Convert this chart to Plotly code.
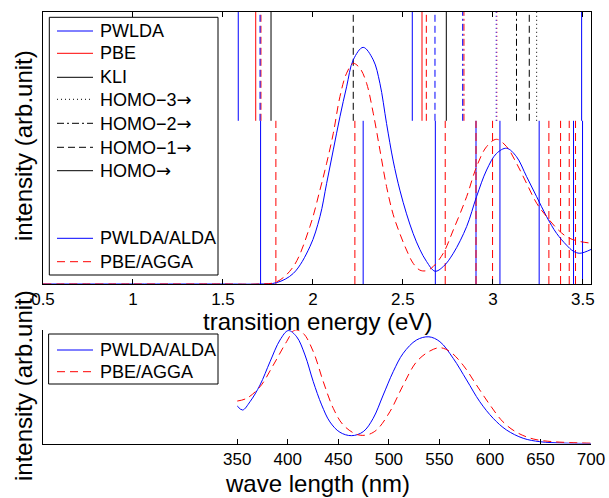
import plotly.graph_objects as go

W, H = 609, 498
FONT = "Liberation Sans, Arial, sans-serif"

# ---- broadened spectra vs transition energy (eV) ----
e_pwlda_alda = [0.5, 1.0, 1.5, 1.7, 1.798, 1.891, 1.983, 2.039, 2.076, 2.113, 2.15, 2.187,
                2.224, 2.279, 2.335, 2.372, 2.409, 2.446, 2.483, 2.52, 2.557, 2.594, 2.631,
                2.678, 2.724, 2.78, 2.854, 2.909, 2.965, 3.02, 3.076, 3.131, 3.187, 3.243,
                3.298, 3.354, 3.409, 3.446, 3.483, 3.545]
i_pwlda_alda = [0.0, 0.0, 0.0, 0.0, 0.005, 0.039, 0.137, 0.248, 0.37, 0.493, 0.615, 0.725,
                0.824, 0.870, 0.824, 0.738, 0.59, 0.452, 0.345, 0.258, 0.185, 0.127, 0.083,
                0.047, 0.064, 0.113, 0.211, 0.321, 0.419, 0.48, 0.499, 0.468, 0.395, 0.321,
                0.248, 0.186, 0.143, 0.121, 0.113, 0.127]

e_pbe_agga = [0.5, 1.0, 1.5, 1.7, 1.798, 1.891, 1.983, 2.039, 2.076, 2.113, 2.15, 2.187,
              2.224, 2.261, 2.298, 2.335, 2.372, 2.409, 2.446, 2.483, 2.52, 2.557, 2.594,
              2.631, 2.668, 2.724, 2.78, 2.854, 2.909, 2.965, 3.02, 3.076, 3.131, 3.187,
              3.243, 3.298, 3.354, 3.409, 3.465, 3.545]
i_pbe_agga = [0.0, 0.0, 0.0, 0.0, 0.008, 0.064, 0.211, 0.346, 0.444, 0.554, 0.689, 0.775,
              0.811, 0.793, 0.738, 0.628, 0.493, 0.358, 0.255, 0.185, 0.125, 0.076, 0.051,
              0.049, 0.064, 0.113, 0.199, 0.321, 0.431, 0.505, 0.532, 0.505, 0.444, 0.37,
              0.297, 0.248, 0.205, 0.174, 0.159, 0.15]

# ---- TDDFT excitation energies (eV) ----
exc_pwlda_alda = [1.709, 2.279, 2.680, 2.906, 3.039, 3.257, 3.448, 3.498]
exc_pbe_agga = [1.794, 2.233, 2.735, 2.906, 2.998, 3.311, 3.376, 3.424, 3.459]

# ---- Kohn-Sham eigenvalue differences (eV) and the occupied orbital
#      each transition starts from (0 = HOMO, 1 = HOMO-1, ...) ----
ks_pwlda_e = [1.585, 1.706, 2.552, 2.678, 2.832, 3.018, 3.493]
ks_pwlda_orb = [0, 1, 0, 1, 2, 3, 0]
ks_pbe_e = [1.682, 1.711, 2.606, 2.630, 2.839, 3.022]
ks_pbe_orb = [0, 1, 0, 1, 2, 3]
ks_kli_e = [1.767, 2.224, 2.741, 3.131, 3.202, 3.243]
ks_kli_orb = [0, 1, 0, 2, 1, 3]

# ---- absorption spectra vs wavelength (nm) ----
wl_pwlda_alda = [350, 355.3, 362.6, 372.5, 382.4, 392.3, 400.5, 408.8, 417, 425.2, 433.5,
                 441.7, 451.6, 463.1, 474.6, 484.5, 494.4, 504.3, 514.2, 527.4, 539.6, 550.5,
                 563.7, 576.9, 590, 603.2, 616.4, 632.9, 649.4, 672.4, 700]
a_pwlda_alda = [0.33, 0.295, 0.368, 0.515, 0.72, 0.912, 0.995, 0.94, 0.78, 0.545, 0.34,
                0.19, 0.099, 0.069, 0.104, 0.222, 0.427, 0.633, 0.795, 0.912, 0.94, 0.897,
                0.75, 0.56, 0.368, 0.222, 0.119, 0.046, 0.016, 0.004, 0.0]
wl_pbe_agga = [350, 359.3, 372.5, 385.6, 398.8, 407, 415.3, 425.2, 435.1, 445, 454.9, 468,
               477.9, 487.8, 501, 514.2, 527.4, 540.6, 550.5, 560.4, 573.5, 586.7, 600, 613,
               626.3, 642.8, 662.5, 700]
a_pbe_agga = [0.374, 0.398, 0.5, 0.69, 0.897, 1.0, 0.97, 0.81, 0.545, 0.31, 0.163, 0.081,
              0.075, 0.119, 0.28, 0.515, 0.72, 0.815, 0.844, 0.81, 0.69, 0.515, 0.34, 0.19,
              0.099, 0.04, 0.016, 0.003]

energy_ticks = [0.5, 1, 1.5, 2, 2.5, 3, 3.5]
energy_tick_labels = ["0.5", "1", "1.5", "2", "2.5", "3", "3.5"]
wl_ticks = [350, 400, 450, 500, 550, 600, 650, 700]
wl_tick_labels = ["350", "400", "450", "500", "550", "600", "650", "700"]

ARROW = '<span style="font-family:DejaVu Sans">\u2192</span>'
orbital_names = ["HOMO" + ARROW, "HOMO\u22121" + ARROW,
                 "HOMO\u22122" + ARROW, "HOMO\u22123" + ARROW]

BLUE = "#0000ff"
RED = "#ff0000"
BLACK = "#000000"
STICK_DASH = {0: "solid", 1: "7px,4px", 2: "7px,3px,2px,3px", 3: "1px,3px"}
CURVE_DASH = "8px,5px"

KS_LOW, KS_HIGH = 0.6, 1.0     # band used for Kohn-Sham transitions
EXC_LOW, EXC_HIGH = 0.0, 0.6   # band used for TDDFT excitations


def sticks(energies, y0, y1):
    xs, ys = [], []
    for e in energies:
        xs += [e, e, None]
        ys += [y0, y1, None]
    return xs, ys


fig = go.Figure()

# TDDFT excitation sticks
for energies, color, dash in [(exc_pwlda_alda, BLUE, "solid"),
                              (exc_pbe_agga, RED, CURVE_DASH)]:
    xs, ys = sticks(energies, EXC_LOW, EXC_HIGH)
    fig.add_trace(go.Scatter(x=xs, y=ys, mode="lines", showlegend=False,
                             line=dict(color=color, width=1, dash=dash),
                             xaxis="x", yaxis="y", hoverinfo="skip"))

# Kohn-Sham transition sticks, line style by starting orbital
for energies, orbs, color in [(ks_kli_e, ks_kli_orb, BLACK),
                              (ks_pbe_e, ks_pbe_orb, RED),
                              (ks_pwlda_e, ks_pwlda_orb, BLUE)]:
    for orb in sorted(set(orbs)):
        sel = [e for e, o in zip(energies, orbs) if o == orb]
        xs, ys = sticks(sel, KS_LOW, KS_HIGH)
        fig.add_trace(go.Scatter(x=xs, y=ys, mode="lines", showlegend=False,
                                 line=dict(color=color, width=1, dash=STICK_DASH[orb]),
                                 xaxis="x", yaxis="y", hoverinfo="skip"))

# broadened spectra (energy)
fig.add_trace(go.Scatter(x=e_pwlda_alda, y=i_pwlda_alda, mode="lines", name="PWLDA/ALDA",
                         showlegend=False, line=dict(color=BLUE, width=1, shape="spline"),
                         xaxis="x", yaxis="y"))
fig.add_trace(go.Scatter(x=e_pbe_agga, y=i_pbe_agga, mode="lines", name="PBE/AGGA",
                         showlegend=False,
                         line=dict(color=RED, width=1, dash=CURVE_DASH, shape="spline"),
                         xaxis="x", yaxis="y"))

# spectra (wavelength)
fig.add_trace(go.Scatter(x=wl_pwlda_alda, y=a_pwlda_alda, mode="lines", name="PWLDA/ALDA",
                         showlegend=False, line=dict(color=BLUE, width=1, shape="spline"),
                         xaxis="x2", yaxis="y2"))
fig.add_trace(go.Scatter(x=wl_pbe_agga, y=a_pbe_agga, mode="lines", name="PBE/AGGA",
                         showlegend=False,
                         line=dict(color=RED, width=1, dash=CURVE_DASH, shape="spline"),
                         xaxis="x2", yaxis="y2"))


def px(x):
    return x / W


def py(y):
    return 1 - y / H


x_dom = [px(43), px(591)]
axis_common = dict(showgrid=False, zeroline=False, showline=True, linecolor=BLACK,
                   linewidth=1, automargin=False)

fig.update_layout(
    template="none",
    width=W, height=H,
    margin=dict(l=0, r=0, t=0, b=0, pad=0),
    paper_bgcolor="white", plot_bgcolor="white",
    font=dict(family=FONT, color=BLACK),
    showlegend=False,
    xaxis=dict(domain=x_dom, anchor="y", range=[0.5, 3.545],
               tickmode="array", tickvals=energy_ticks, ticktext=energy_tick_labels,
               ticks="inside", ticklen=5, tickwidth=1, tickcolor=BLACK, mirror="ticks",
               tickfont=dict(size=17, family=FONT, color=BLACK), **axis_common),
    yaxis=dict(domain=[py(284), py(12)], anchor="x", range=[0, 1],
               showticklabels=False, ticks="", mirror=True, **axis_common),
    xaxis2=dict(domain=x_dom, anchor="y2", range=[157.8, 700],
                tickmode="array", tickvals=wl_ticks, ticktext=wl_tick_labels,
                ticks="inside", ticklen=5, tickwidth=1, tickcolor=BLACK,
                tickfont=dict(size=17, family=FONT, color=BLACK), **axis_common),
    yaxis2=dict(domain=[py(443.5), py(330)], anchor="x2", range=[0, 1],
                showticklabels=False, ticks="", **axis_common),
)

annotations = [
    dict(text="transition energy (eV)", x=px(317), y=py(321), font=dict(size=24)),
    dict(text="wave length (nm)", x=px(317), y=py(483.5), font=dict(size=24)),
    dict(text="intensity (arb.unit)", x=px(23), y=py(146), textangle=-90, font=dict(size=24)),
    dict(text="intensity (arb.unit)", x=px(23), y=py(386), textangle=-90, font=dict(size=24)),
]
for a in annotations:
    a.update(xref="paper", yref="paper", xanchor="center", yanchor="middle",
             showarrow=False)
    a["font"].update(family=FONT, color=BLACK)

shapes = []

# legend for the energy panel
shapes.append(dict(type="rect", xref="paper", yref="paper", x0=px(49.3), x1=px(218),
                   y0=py(275), y1=py(17.3), line=dict(color=BLACK, width=1),
                   fillcolor="white", layer="above"))
top_entries = [
    ("PWLDA", BLUE, "solid", 31),
    ("PBE", RED, "solid", 53.3),
    ("KLI", BLACK, "solid", 77.3),
    (orbital_names[3], BLACK, STICK_DASH[3], 99.3),
    (orbital_names[2], BLACK, STICK_DASH[2], 123.3),
    (orbital_names[1], BLACK, STICK_DASH[1], 147.3),
    (orbital_names[0], BLACK, STICK_DASH[0], 170.7),
    ("PWLDA/ALDA", BLUE, "solid", 238.3),
    ("PBE/AGGA", RED, CURVE_DASH, 261.7),
]
# legend for the wavelength panel
bottom_entries = [
    ("PWLDA/ALDA", BLUE, "solid", 350),
    ("PBE/AGGA", RED, CURVE_DASH, 371.7),
]
shapes.append(dict(type="rect", xref="paper", yref="paper", x0=px(48.6), x1=px(218),
                   y0=py(384), y1=py(334), line=dict(color=BLACK, width=1),
                   fillcolor="white", layer="above"))

for label, color, dash, yy in top_entries + bottom_entries:
    shapes.append(dict(type="line", xref="paper", yref="paper", x0=px(57), x1=px(93),
                       y0=py(yy), y1=py(yy), line=dict(color=color, width=1, dash=dash),
                       layer="above"))
    annotations.append(dict(text=label, xref="paper", yref="paper", x=px(97.5), y=py(yy),
                            xanchor="left", yanchor="middle", showarrow=False,
                            font=dict(size=18, family=FONT, color=BLACK)))

fig.update_layout(shapes=shapes, annotations=annotations)

fig.write_html("out.html")
